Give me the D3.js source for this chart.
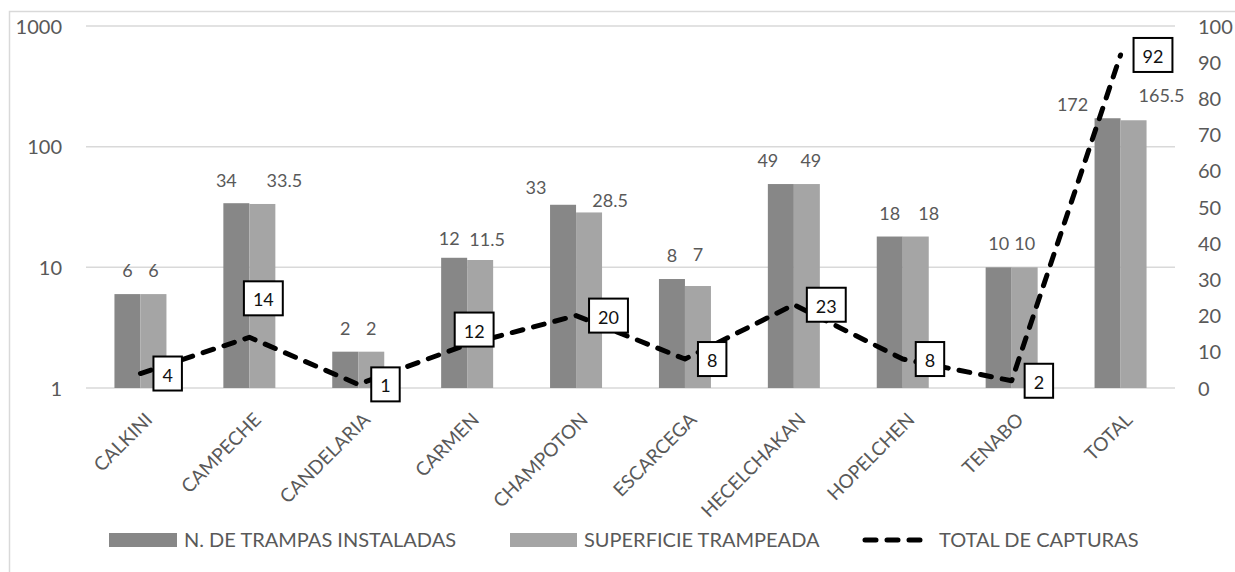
<!DOCTYPE html>
<html>
<head>
<meta charset="utf-8">
<script src="https://cdn.jsdelivr.net/npm/d3@7"></script>
<style>
  html, body { margin: 0; padding: 0; background: #fff; }
  svg { display: block; font-family: Lato, "Open Sans", sans-serif; }
</style>
</head>
<body>
<svg id="chart" width="1235" height="572"></svg>
<script>
// Municipalities of Campeche (x categories)
const categories = ["CALKINI", "CAMPECHE", "CANDELARIA", "CARMEN", "CHAMPOTON",
                    "ESCARCEGA", "HECELCHAKAN", "HOPELCHEN", "TENABO", "TOTAL"];
// Bars on the log axis (left)
const trampas    = [6, 34, 2, 12, 33, 8, 49, 18, 10, 172];
const superficie = [6, 33.5, 2, 11.5, 28.5, 7, 49, 18, 10, 165.5];
// Dashed line on the linear axis (right)
const capturas   = [4, 14, 1, 12, 20, 8, 23, 8, 2, 92];

const leftTicks  = [1, 10, 100, 1000];
const rightTicks = [0, 10, 20, 30, 40, 50, 60, 70, 80, 90, 100];

const seriesNames = ["N. DE TRAMPAS INSTALADAS", "SUPERFICIE TRAMPEADA", "TOTAL DE CAPTURAS"];

// Hand-placed nudges for the value labels (px, relative to default spot)
const trampasLabelShift    = [[0,0],[-10,1],[0,0],[-5,4],[-27,6],[0,0],[-13,0],[0,0],[0,0],[-35,10]];
const superficieLabelShift = [[0,0],[22,0],[0,0],[7,3],[21,12],[0,-8],[4,0],[13,0],[0,0],[28,-1]];
// Nudges for the boxed capture labels (null = to the right of the point)
const capturasLabelShift   = [null,[14,-39],null,[7,-15],null,null,null,null,null,null];

const svg = d3.select("#chart");
const W = 1235, H = 572;
const plot = { left: 86, right: 1175, top: 26, bottom: 388 };

const gridColor = "#d9d9d9";
const textColor = "#595959";
const darkBar = "#878787";
const lightBar = "#a5a5a5";

// Outer chart frame
svg.append("rect")
  .attr("x", 9.5).attr("y", 11.5)
  .attr("width", W + 20).attr("height", H + 20)
  .attr("fill", "#fff").attr("stroke", gridColor).attr("stroke-width", 1.5);

const x = d3.scaleBand().domain(categories).range([plot.left, plot.right]).paddingInner(0).paddingOuter(0);
const yL = d3.scaleLog().domain([1, 1000]).range([plot.bottom, plot.top]);
const yR = d3.scaleLinear().domain([0, 100]).range([plot.bottom, plot.top]);

const groupW = 52;
const xs = d3.scaleBand().domain(["a", "b"]).range([0, groupW]).padding(0);
const cx = c => x(c) + x.bandwidth() / 2;

// Gridlines (left log axis)
svg.append("g").selectAll("line").data(leftTicks).join("line")
  .attr("x1", plot.left).attr("x2", plot.right)
  .attr("y1", d => yL(d)).attr("y2", d => yL(d))
  .attr("stroke", gridColor).attr("stroke-width", 1.5);

// Left axis labels
const axisL = d3.axisLeft(yL).tickValues(leftTicks).tickFormat(d3.format("d")).tickSize(0).tickPadding(0);
const gL = svg.append("g").attr("transform", "translate(62,0)").call(axisL);
gL.select(".domain").remove();
gL.selectAll("text").attr("fill", textColor).style("font-size", "20px")
  .style("font-family", "Lato, sans-serif").attr("dy", "0.35em");

// Right axis labels
const axisR = d3.axisRight(yR).tickValues(rightTicks).tickFormat(d3.format("d")).tickSize(0).tickPadding(0);
const gR = svg.append("g").attr("transform", "translate(1198,0)").call(axisR);
gR.select(".domain").remove();
gR.selectAll("text").attr("fill", textColor).style("font-size", "20px")
  .style("font-family", "Lato, sans-serif").attr("dy", "0.35em");

// Bars
const barSeries = [
  { key: "a", values: trampas, color: darkBar, shift: trampasLabelShift },
  { key: "b", values: superficie, color: lightBar, shift: superficieLabelShift }
];
barSeries.forEach(s => {
  const bx = (c) => cx(c) - groupW / 2 + xs(s.key);
  svg.append("g").selectAll("rect").data(categories).join("rect")
    .attr("x", c => bx(c))
    .attr("width", xs.bandwidth())
    .attr("y", (c, i) => yL(s.values[i]))
    .attr("height", (c, i) => yL(1) - yL(s.values[i]))
    .attr("fill", s.color);
});

// Category axis labels, rotated
svg.append("g").selectAll("text").data(categories).join("text")
  .attr("transform", c => `translate(${cx(c) + 13},421) rotate(-45)`)
  .attr("text-anchor", "end")
  .attr("fill", textColor)
  .style("font-size", "19px")
  .text(c => c);

// Dashed capture line
const line = d3.line().x((d, i) => cx(categories[i])).y(d => yR(d));
svg.append("path")
  .datum(capturas)
  .attr("d", line)
  .attr("fill", "none")
  .attr("stroke", "#000")
  .attr("stroke-width", 5)
  .attr("stroke-linecap", "round")
  .attr("stroke-linejoin", "round")
  .attr("stroke-dasharray", "11 11");

// Value labels above bars
barSeries.forEach(s => {
  svg.append("g").selectAll("text").data(categories).join("text")
    .attr("x", (c, i) => cx(c) - groupW / 2 + xs(s.key) + xs.bandwidth() / 2 + s.shift[i][0])
    .attr("y", (c, i) => yL(s.values[i]) - 17 + s.shift[i][1])
    .attr("text-anchor", "middle")
    .attr("fill", textColor)
    .style("font-size", "18px")
    .text((c, i) => d3.format("~g")(s.values[i]));
});

// Boxed capture labels
const capG = svg.append("g");
capturas.forEach((v, i) => {
  const px = cx(categories[i]), py = yR(v);
  const g = capG.append("g");
  const t = g.append("text")
    .attr("text-anchor", "middle")
    .attr("dominant-baseline", "central")
    .attr("fill", "#111")
    .style("font-size", "18px")
    .text(v);
  const tw = t.node().getComputedTextLength();
  const bw = tw + 18, bh = 34;
  let ccx, ccy;
  if (capturasLabelShift[i]) {
    ccx = px + capturasLabelShift[i][0];
    ccy = py + capturasLabelShift[i][1];
  } else {
    ccx = px + 13 + bw / 2;
    ccy = py;
  }
  g.insert("rect", "text")
    .attr("x", ccx - bw / 2).attr("y", ccy - bh / 2)
    .attr("width", bw).attr("height", bh)
    .attr("fill", "#fff").attr("stroke", "#000").attr("stroke-width", 2);
  t.attr("x", ccx).attr("y", ccy + 1);
});

// Legend
const legend = svg.append("g");
const legY = 540;
legend.append("rect").attr("x", 109).attr("y", legY - 7).attr("width", 68).attr("height", 14).attr("fill", darkBar);
legend.append("text").attr("x", 184).attr("y", legY + 7).attr("fill", textColor).style("font-size", "20px").text(seriesNames[0]);
legend.append("rect").attr("x", 510).attr("y", legY - 7).attr("width", 67).attr("height", 14).attr("fill", lightBar);
legend.append("text").attr("x", 584).attr("y", legY + 7).attr("fill", textColor).style("font-size", "20px").text(seriesNames[1]);
legend.append("line").attr("x1", 865).attr("x2", 925).attr("y1", legY).attr("y2", legY)
  .attr("stroke", "#000").attr("stroke-width", 5).attr("stroke-linecap", "round").attr("stroke-dasharray", "11 11");
legend.append("text").attr("x", 939).attr("y", legY + 7).attr("fill", textColor).style("font-size", "20px").text(seriesNames[2]);
</script>
</body>
</html>
